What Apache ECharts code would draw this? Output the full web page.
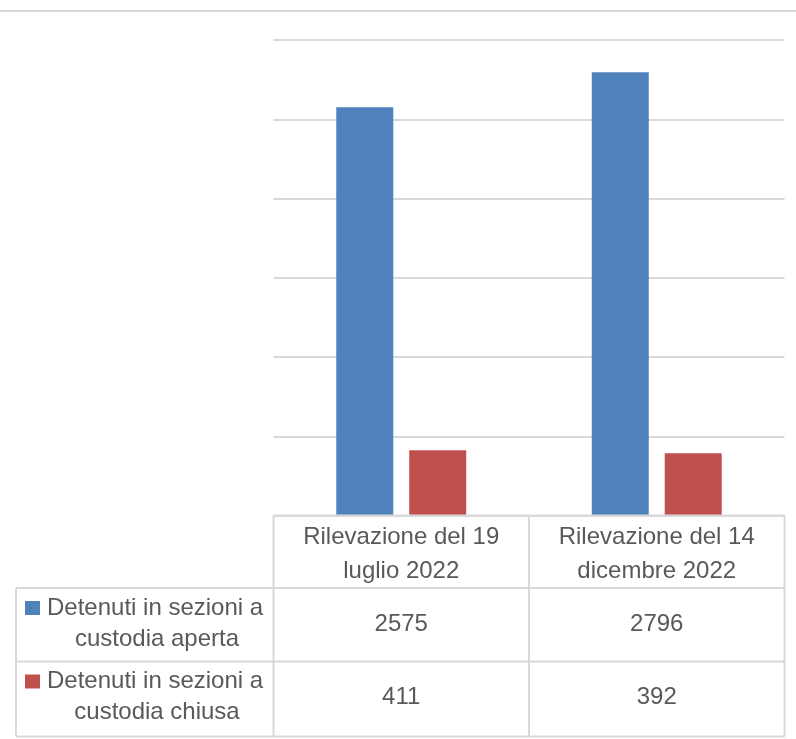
<!DOCTYPE html>
<html><head><meta charset="utf-8">
<script src="https://cdn.jsdelivr.net/npm/echarts@6/dist/echarts.min.js"></script>
<style>html,body{margin:0;padding:0;background:#fff}#c{width:796px;height:739px}</style>
</head><body><div id="c"></div>
<script>
const categories = [["Rilevazione del 19", "luglio 2022"], ["Rilevazione del 14", "dicembre 2022"]];
const seriesNames = [["Detenuti in sezioni a", "custodia aperta"], ["Detenuti in sezioni a", "custodia chiusa"]];
const openValues = [2575, 2796];
const closedValues = [411, 392];
const colors = ["#4f81bd", "#c0504d"];
const yTicks = {min: 0, max: 3000, interval: 500};

const chart = echarts.init(document.getElementById('c'));
const L = 273.5, R = 784.5, T = 40, B = 515.5;
const tableLeft = 16, rowY = [515.5, 588, 661.5, 736.5];
const colX = [L, (L + R) / 2, R];
const gridColor = '#d9d9d9';
const textColor = '#595959';
const font = '24px "Liberation Sans", sans-serif';
const g = [];
function line(x1, y1, x2, y2, w) {
  g.push({type: 'line', shape: {x1, y1, x2, y2}, style: {stroke: gridColor, lineWidth: w || 2}, silent: true, z: 10});
}
function txt(x, y, s, align) {
  g.push({type: 'text', x, y, style: {text: s, font, fill: textColor, align: align || 'center', verticalAlign: 'middle'}, z: 10});
}
// top rule
line(0, 11, 796, 11, 2);
// table lines
line(L, rowY[0], R, rowY[0]);
for (let i = 1; i < 4; i++) line(tableLeft, rowY[i], R, rowY[i]);
line(tableLeft, rowY[1], tableLeft, rowY[3]);
colX.forEach(x => line(x, rowY[0], x, rowY[3]));
// header texts
categories.forEach((c, i) => {
  const cx = (colX[i] + colX[i + 1]) / 2;
  txt(cx, 537, c[0]);
  txt(cx, 571, c[1]);
});
// rows
const rows = [openValues, closedValues];
rows.forEach((vals, r) => {
  const top = rowY[r + 1];
  vals.forEach((v, i) => {
    const cx = (colX[i] + colX[i + 1]) / 2;
    txt(cx, top + 36, String(v));
  });
  g.push({type: 'rect', shape: {x: 25, y: top + 13, width: 15, height: 14}, style: {fill: colors[r]}, z: 10});
  txt(47, top + 20, seriesNames[r][0], 'left');
  txt(157, top + 51, seriesNames[r][1], 'center');
});

chart.setOption({
  animation: false,
  color: colors,
  grid: {left: L, right: 796 - R, top: T, bottom: 739 - B},
  xAxis: {type: 'category', data: categories.map(c => c.join(' ')),
    axisLine: {show: false}, axisTick: {show: false}, axisLabel: {show: false}},
  yAxis: {type: 'value', min: yTicks.min, max: yTicks.max, interval: yTicks.interval,
    axisLabel: {show: false}, axisLine: {show: false}, axisTick: {show: false},
    splitLine: {lineStyle: {color: gridColor, width: 2}}},
  series: [
    {type: 'bar', name: seriesNames[0].join(' '), data: openValues, barWidth: 57, barGap: '28%'},
    {type: 'bar', name: seriesNames[1].join(' '), data: closedValues, barWidth: 57, barGap: '28%'}
  ],
  graphic: g
});
</script></body></html>
